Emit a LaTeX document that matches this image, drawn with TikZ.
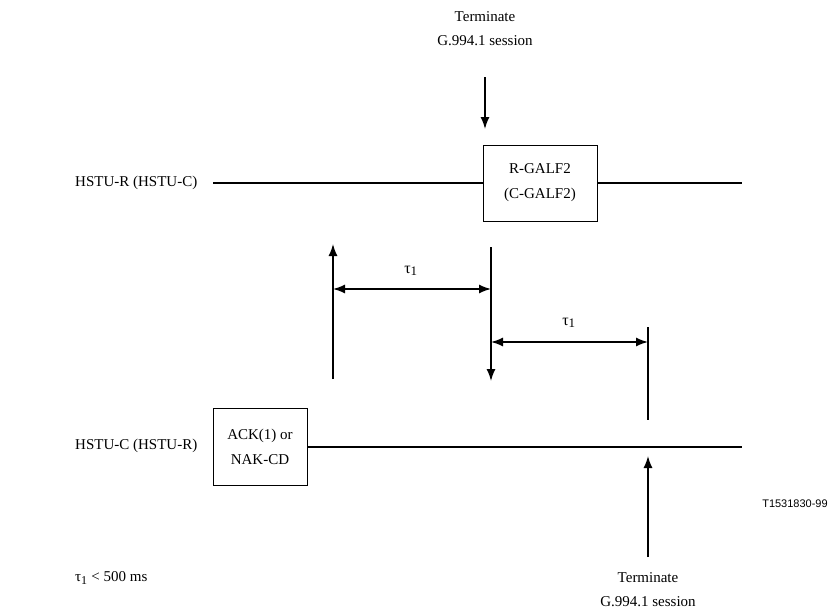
\documentclass[tikz,border=0pt]{standalone}
\usepackage{fontspec}
\setmainfont{Liberation Serif}
\newfontfamily\helv{Liberation Sans}
\usetikzlibrary{arrows.meta}
\begin{document}
\begin{tikzpicture}[
		x=1pt, y=-1pt,
		caixa/.style={
			draw,
			rectangle,
			align=center,
			inner sep=0pt,
			line width=0.8pt,
			font=\fontsize{15}{25}\selectfont
		},
		rotulo/.style={
			align=center,
			inner sep=0pt,
			font=\fontsize{15}{24}\selectfont
		},
		linha/.style={line width=1.7pt},
		seta/.style={-{Latex[length=12pt,width=9pt]}, line width=1.5pt},
		dupla/.style={{Latex[length=12pt,width=9pt]}-{Latex[length=12pt,width=9pt]}, line width=1.5pt}
		]
		\useasboundingbox (0,0) rectangle (831,613);
		
		%Estacoes
		\node[rotulo, anchor=west] (hsturA) at (75,183) {HSTU-R (HSTU-C)};
		\node[rotulo, anchor=west] (hstucA) at (75,446) {HSTU-C (HSTU-R)};
		
		\node[caixa, minimum width=114pt, minimum height=76pt] (galf) at (540,183) {R-GALF2\\(C-GALF2)};
		\node[caixa, minimum width=94pt, minimum height=77pt] (ack) at (260,447) {ACK(1) or\\NAK-CD};
		
		\node[rotulo] (termA) at (485,29) {Terminate\\G.994.1 session};
		\node[rotulo] (termB) at (648,590) {Terminate\\G.994.1 session};
		
		\node[rotulo, font=\fontsize{16}{18}\selectfont] (tauA) at (411,271) {τ\textsubscript{\fontsize{13}{13}\selectfont 1}};
		\node[rotulo, font=\fontsize{16}{18}\selectfont] (tauB) at (569,323) {τ\textsubscript{\fontsize{13}{13}\selectfont 1}};
		\node[rotulo, anchor=west] (limite) at (75,578) {τ\textsubscript{\fontsize{12}{12}\selectfont 1} < 500 ms};
		\node[rotulo, font=\helv\fontsize{11}{13}\selectfont] (fig) at (795,504) {T1531830-99};
		
		\coordinate (rIni) at (213,183);
		\coordinate (rFim) at (742,183);
		\coordinate (cFim) at (742,447);
		\coordinate (tA1) at (485,77);
		\coordinate (tA2) at (485,129);
		\coordinate (tB1) at (648,557);
		\coordinate (tB2) at (648,456);
		\coordinate (v1a) at (333,379);
		\coordinate (v1b) at (333,244);
		\coordinate (v2a) at (491,247);
		\coordinate (v2b) at (491,381);
		\coordinate (v3a) at (648,327);
		\coordinate (v3b) at (648,420);
		\coordinate (d1a) at (333,289);
		\coordinate (d1b) at (491,289);
		\coordinate (d2a) at (491,342);
		\coordinate (d2b) at (648,342);
		
		%Linhas
		\draw[linha] (rIni) -- (galf.west);
		\draw[linha] (galf.east) -- (rFim);
		\draw[linha] (ack.east) -- (cFim);
		
		\draw[seta] (tA1) -- (tA2);
		\draw[seta] (tB1) -- (tB2);
		\draw[seta] (v1a) -- (v1b);
		\draw[seta] (v2a) -- (v2b);
		\draw[linha] (v3a) -- (v3b);
		
		\draw[dupla] (d1a) -- (d1b);
		\draw[dupla] (d2a) -- (d2b);
		
	\end{tikzpicture}
\end{document}
